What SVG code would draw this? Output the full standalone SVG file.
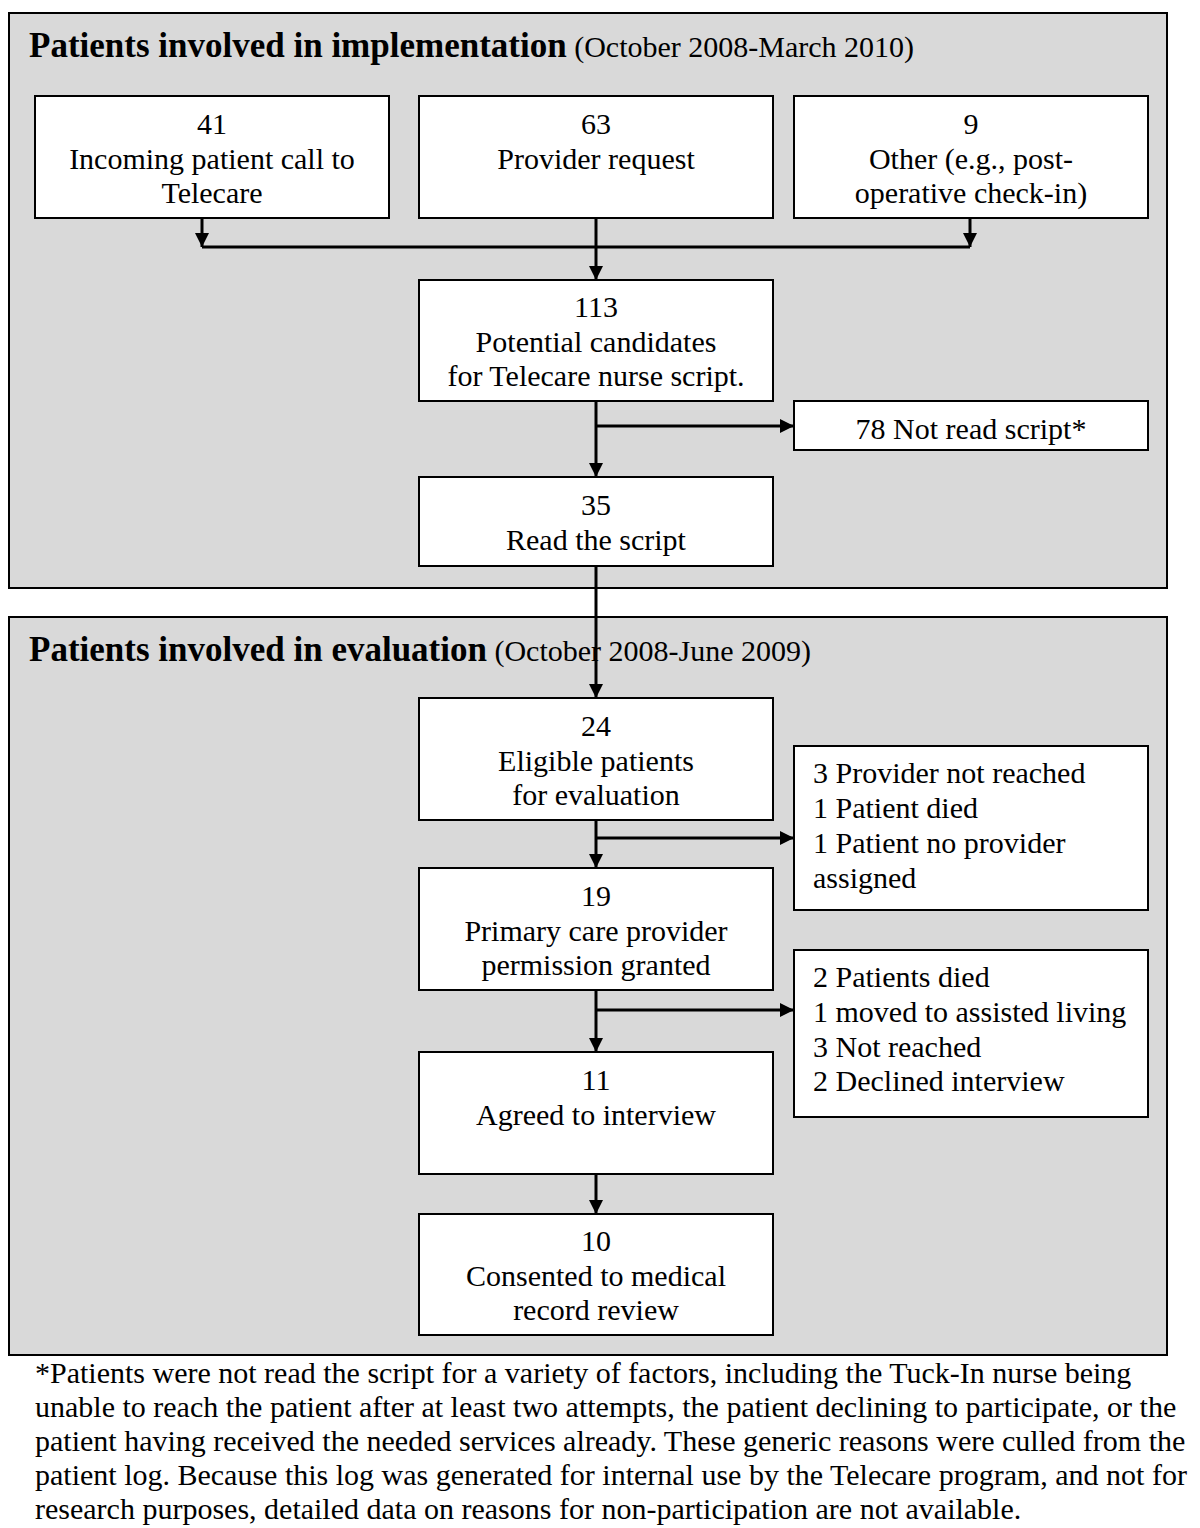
<svg xmlns="http://www.w3.org/2000/svg" width="1200" height="1528" viewBox="0 0 1200 1528">
<style>
.panel{fill:#d9d9d9;stroke:#000;stroke-width:2}
.box{fill:#fff;stroke:#000;stroke-width:2}
text{font-family:"Liberation Serif","Times New Roman",serif;font-size:30px;fill:#000}
.c{text-anchor:middle}
.t{font-weight:bold;font-size:35px}
.ln{stroke:#000;stroke-width:3;fill:none}
</style>
<defs>
<marker id="ah2" markerWidth="14" markerHeight="14" refX="14" refY="7" orient="auto" markerUnits="userSpaceOnUse" viewBox="0 0 14 14">
<path d="M0,0 L14,7 L0,14 z" fill="#000"/>
</marker>
</defs>
<rect x="0" y="0" width="1200" height="1528" fill="#fff"/>
<g id="panel-impl">
<rect class="panel" x="9" y="13" width="1158" height="575"/>
<text x="29" y="57"><tspan class="t">Patients involved in implementation</tspan> (October 2008-March 2010)</text>
</g>
<g id="panel-eval">
<rect class="panel" x="9" y="617" width="1158" height="738"/>
<text x="29" y="661"><tspan class="t">Patients involved in evaluation</tspan> (October 2008-June 2009)</text>
</g>
<g id="n41">
<rect class="box" x="35" y="96" width="354" height="122"/>
<text class="c" x="212" y="134">41</text>
<text class="c" x="212" y="169">Incoming patient call to</text>
<text class="c" x="212" y="203">Telecare</text>
</g>
<g id="n63">
<rect class="box" x="419" y="96" width="354" height="122"/>
<text class="c" x="596" y="134">63</text>
<text class="c" x="596" y="169">Provider request</text>
</g>
<g id="n9">
<rect class="box" x="794" y="96" width="354" height="122"/>
<text class="c" x="971" y="134">9</text>
<text class="c" x="971" y="169">Other (e.g., post-</text>
<text class="c" x="971" y="203">operative check-in)</text>
</g>
<g id="n113">
<rect class="box" x="419" y="280" width="354" height="121"/>
<text class="c" x="596" y="317">113</text>
<text class="c" x="596" y="352">Potential candidates</text>
<text class="c" x="596" y="386">for Telecare nurse script.</text>
</g>
<g id="n78">
<rect class="box" x="794" y="401" width="354" height="49"/>
<text class="c" x="971" y="439">78 Not read script*</text>
</g>
<g id="n35">
<rect class="box" x="419" y="477" width="354" height="89"/>
<text class="c" x="596" y="515">35</text>
<text class="c" x="596" y="550">Read the script</text>
</g>
<g id="n24">
<rect class="box" x="419" y="698" width="354" height="122"/>
<text class="c" x="596" y="736">24</text>
<text class="c" x="596" y="771">Eligible patients</text>
<text class="c" x="596" y="805">for evaluation</text>
</g>
<g id="nex1">
<rect class="box" x="794" y="746" width="354" height="164"/>
<text x="813" y="783">3 Provider not reached</text>
<text x="813" y="818">1 Patient died</text>
<text x="813" y="853">1 Patient no provider</text>
<text x="813" y="888">assigned</text>
</g>
<g id="n19">
<rect class="box" x="419" y="868" width="354" height="122"/>
<text class="c" x="596" y="906">19</text>
<text class="c" x="596" y="941">Primary care provider</text>
<text class="c" x="596" y="975">permission granted</text>
</g>
<g id="nex2">
<rect class="box" x="794" y="950" width="354" height="167"/>
<text x="813" y="987">2 Patients died</text>
<text x="813" y="1022">1 moved to assisted living</text>
<text x="813" y="1057">3 Not reached</text>
<text x="813" y="1091">2 Declined interview</text>
</g>
<g id="n11">
<rect class="box" x="419" y="1052" width="354" height="122"/>
<text class="c" x="596" y="1090">11</text>
<text class="c" x="596" y="1125">Agreed to interview</text>
</g>
<g id="n10">
<rect class="box" x="419" y="1214" width="354" height="121"/>
<text class="c" x="596" y="1251">10</text>
<text class="c" x="596" y="1286">Consented to medical</text>
<text class="c" x="596" y="1320">record review</text>
</g>
<g id="connectors">
<line class="ln" x1="202" y1="218" x2="202" y2="247" marker-end="url(#ah2)"/>
<line class="ln" x1="970" y1="218" x2="970" y2="247" marker-end="url(#ah2)"/>
<line class="ln" x1="202" y1="247" x2="970" y2="247"/>
<line class="ln" x1="596" y1="218" x2="596" y2="280" marker-end="url(#ah2)"/>
<line class="ln" x1="596" y1="401" x2="596" y2="477" marker-end="url(#ah2)"/>
<line class="ln" x1="596" y1="426" x2="794" y2="426" marker-end="url(#ah2)"/>
<line class="ln" x1="596" y1="566" x2="596" y2="698" marker-end="url(#ah2)"/>
<line class="ln" x1="596" y1="820" x2="596" y2="868" marker-end="url(#ah2)"/>
<line class="ln" x1="596" y1="838" x2="794" y2="838" marker-end="url(#ah2)"/>
<line class="ln" x1="596" y1="990" x2="596" y2="1052" marker-end="url(#ah2)"/>
<line class="ln" x1="596" y1="1010" x2="794" y2="1010" marker-end="url(#ah2)"/>
<line class="ln" x1="596" y1="1174" x2="596" y2="1214" marker-end="url(#ah2)"/>
</g>
<g id="footnote">
<text x="35" y="1383">*Patients were not read the script for a variety of factors, including the Tuck-In nurse being</text>
<text x="35" y="1417">unable to reach the patient after at least two attempts, the patient declining to participate, or the</text>
<text x="35" y="1451">patient having received the needed services already. These generic reasons were culled from the</text>
<text x="35" y="1485">patient log. Because this log was generated for internal use by the Telecare program, and not for</text>
<text x="35" y="1519">research purposes, detailed data on reasons for non-participation are not available.</text>
</g>
</svg>
